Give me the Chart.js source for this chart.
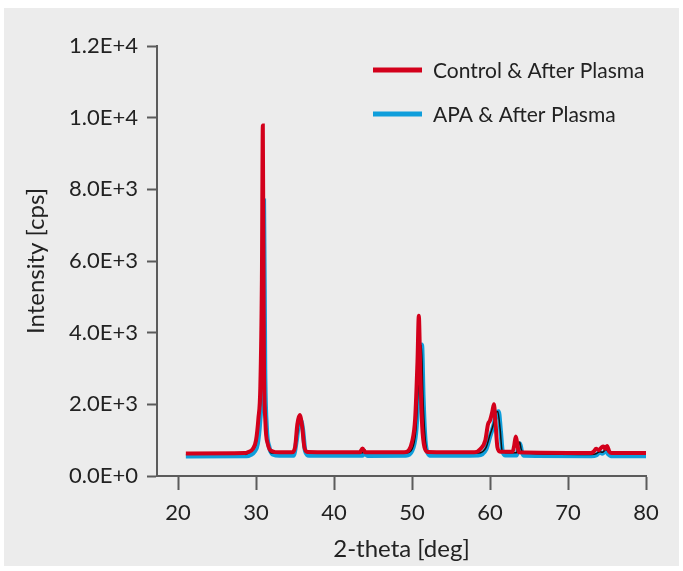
<!DOCTYPE html>
<html>
<head>
<meta charset="utf-8">
<script src="https://cdn.jsdelivr.net/npm/chart.js@4.4.1/dist/chart.umd.min.js"></script>
<style>
  html, body { margin: 0; padding: 0; background: #ffffff; }
  #wrap { position: relative; width: 683px; height: 571px; }
</style>
</head>
<body>
<div id="wrap"><canvas id="xrdChart" width="683" height="571"></canvas></div>
<script>
// 2-theta positions and intensities
const redX = [21, 28.5, 29.0, 29.6, 30.0, 30.3, 30.55, 30.75, 30.87, 31.0, 31.2, 31.5, 32.0, 33.0, 34.6, 35.0, 35.3, 35.6, 35.9, 36.2,
  36.6, 43.3, 43.65, 44.0, 49.0, 49.6, 50.0, 50.4, 50.7, 50.87, 51.05, 51.3, 51.6, 52.0, 58.0, 58.8, 59.4, 59.75, 60.0, 60.3,
  60.5, 60.7, 60.95, 61.3, 62.9, 63.1, 63.3, 63.5, 63.7, 72.9, 73.3, 73.6, 73.95, 74.3, 74.55, 74.75, 75.0, 75.3, 75.6, 80];
const redY = [630, 640, 670, 760, 1000, 1600, 2500, 5500, 9780, 3500, 1500, 900, 700, 660, 660, 800, 1450, 1700, 1400, 800,
  670, 660, 770, 660, 660, 720, 950, 1600, 3200, 4470, 3000, 1400, 800, 670, 660, 760, 1000, 1450, 1550, 1800,
  2000, 1500, 800, 680, 680, 850, 1100, 900, 660, 640, 680, 760, 720, 800, 820, 760, 840, 680, 640, 640];

const blueX = [21, 28.8, 29.3, 29.8, 30.2, 30.5, 30.75, 30.9, 31.0, 31.15, 31.35, 31.7, 32.2, 33.0, 34.8, 35.2, 35.5, 35.75, 36.0, 36.3,
  36.8, 43.6, 43.95, 44.3, 49.2, 50.0, 50.5, 50.9, 51.1, 51.26, 51.45, 51.7, 52.0, 52.5, 58.5, 59.5, 60.0, 60.5, 60.8, 61.1,
  61.35, 61.6, 62.0, 63.4, 63.6, 63.85, 64.05, 64.3, 73.0, 73.6, 74.1, 74.4, 74.85, 75.2, 75.5, 80];
const blueY = [550, 555, 590, 680, 900, 1500, 2600, 5000, 7680, 3000, 1400, 800, 600, 570, 570, 1000, 1500, 1550, 1300, 700,
  570, 570, 620, 565, 570, 700, 1200, 2500, 3300, 3660, 2200, 1000, 650, 570, 580, 750, 1100, 1450, 1750, 1800,
  1300, 700, 580, 580, 750, 900, 700, 570, 560, 580, 660, 630, 700, 600, 560, 560];

// thin dark trace that shows between the two coloured ones
const blackX = [28.6, 29.0, 29.6, 30.0, 30.4, 30.7, 30.95, 31.1, 31.3, 31.6, 32.0, 34.8, 35.2, 35.5, 35.65, 35.9, 36.2, 36.6, 43.7, 43.95,
  44.2, 49.2, 50.0, 50.5, 50.85, 51.2, 51.4, 51.7, 52.1, 58.5, 59.5, 60.0, 60.5, 60.7, 61.0, 61.3, 61.55, 62.0, 63.4, 63.6,
  63.8, 64.0, 64.3, 73.0, 73.6, 74.1, 74.4, 74.85, 75.3, 75.8, 80];
const blackY = [600, 640, 745, 900, 1700, 2700, 7600, 3000, 1400, 800, 640, 640, 1000, 1500, 1620, 1400, 800, 650, 650, 730,
  640, 640, 750, 1300, 2700, 3650, 2200, 1000, 660, 640, 800, 1150, 1500, 1750, 1800, 1300, 700, 650, 650, 800,
  950, 750, 640, 600, 620, 680, 660, 740, 650, 620, 620];

const seriesLabels = ['Control & After Plasma', 'APA & After Plasma'];
const xTicks = [20, 30, 40, 50, 60, 70, 80];

const RED = '#d3001b';
const BLUE = '#0f9edb';
const AXIS = '#5b5b5b';
const TEXT = '#222222';
const FONT = 'Lato';

const toPoints = (xs, ys) => xs.map((x, i) => ({ x, y: ys[i] }));

const panelBg = {
    id: 'panelBg',
    beforeDraw(chart) {
        const ctx = chart.ctx;
        ctx.save();
        ctx.fillStyle = '#ffffff';
        ctx.fillRect(0, 0, chart.width, chart.height);
        ctx.fillStyle = '#ececec';
        ctx.fillRect(4, 8, 675, 558);
        ctx.restore();
    }
};

// legend drawn in the upper right of the plot
const insideLegend = {
    id: 'insideLegend',
    afterDraw(chart) {
        const ctx = chart.ctx;
        const items = [
            { text: seriesLabels[0], color: RED, y: 71 },
            { text: seriesLabels[1], color: BLUE, y: 115 }
        ];
        ctx.save();
        ctx.font = `21px ${FONT}`;
        ctx.textBaseline = 'middle';
        ctx.textAlign = 'left';
        items.forEach(it => {
            ctx.strokeStyle = it.color;
            ctx.lineWidth = 5;
            ctx.beginPath();
            ctx.moveTo(373, it.y - 1);
            ctx.lineTo(422, it.y - 1);
            ctx.stroke();
            ctx.fillStyle = TEXT;
            ctx.fillText(it.text, 433, it.y);
        });
        ctx.restore();
    }
};

function draw() {
    Chart.defaults.font.family = FONT;
    Chart.defaults.color = TEXT;

    new Chart(document.getElementById('xrdChart'), {
        type: 'line',
        data: {
            datasets: [
                { label: seriesLabels[0], data: toPoints(redX, redY), borderColor: RED, borderWidth: 4 },
                { label: 'trace', data: toPoints(blackX, blackY), borderColor: '#111111', borderWidth: 1.5 },
                { label: seriesLabels[1], data: toPoints(blueX, blueY), borderColor: BLUE, borderWidth: 4.5 }
            ]
        },
        options: {
            responsive: false,
            animation: false,
            datasets: {
                line: { pointRadius: 0, fill: false, cubicInterpolationMode: 'monotone' }
            },
            layout: { padding: { left: 0, top: 46, right: 37, bottom: 0 } },
            plugins: { legend: { display: false }, tooltip: { enabled: false } },
            scales: {
                x: {
                    type: 'linear',
                    min: 17.3,
                    max: 80,
                    afterFit: s => { s.height = 95; },
                    afterBuildTicks: s => { s.ticks = xTicks.map(v => ({ value: v })); },
                    border: { color: AXIS, width: 2 },
                    grid: { drawOnChartArea: false, drawTicks: true, tickLength: 14, tickWidth: 2, tickColor: AXIS },
                    ticks: { padding: 10, font: { size: 22 }, color: TEXT, maxRotation: 0 },
                    title: { display: true, text: '2-theta [deg]', font: { size: 24 }, color: TEXT, padding: { top: 0, bottom: 7 } }
                },
                y: {
                    min: 0,
                    max: 12000,
                    afterFit: s => { s.width = 157; },
                    border: { color: AXIS, width: 2 },
                    grid: { drawOnChartArea: false, drawTicks: true, tickLength: 10, tickWidth: 2, tickColor: AXIS },
                    ticks: {
                        stepSize: 2000,
                        padding: 9,
                        font: { size: 22 },
                        color: TEXT,
                        callback: v => v.toExponential(1).replace('e', 'E')
                    },
                    title: { display: true, text: 'Intensity [cps]', font: { size: 24 }, color: TEXT, padding: { top: 22, bottom: 0 } }
                }
            }
        },
        plugins: [panelBg, insideLegend]
    });
}

document.fonts.load(`22px ${FONT}`).then(draw, draw);
</script>
</body>
</html>
